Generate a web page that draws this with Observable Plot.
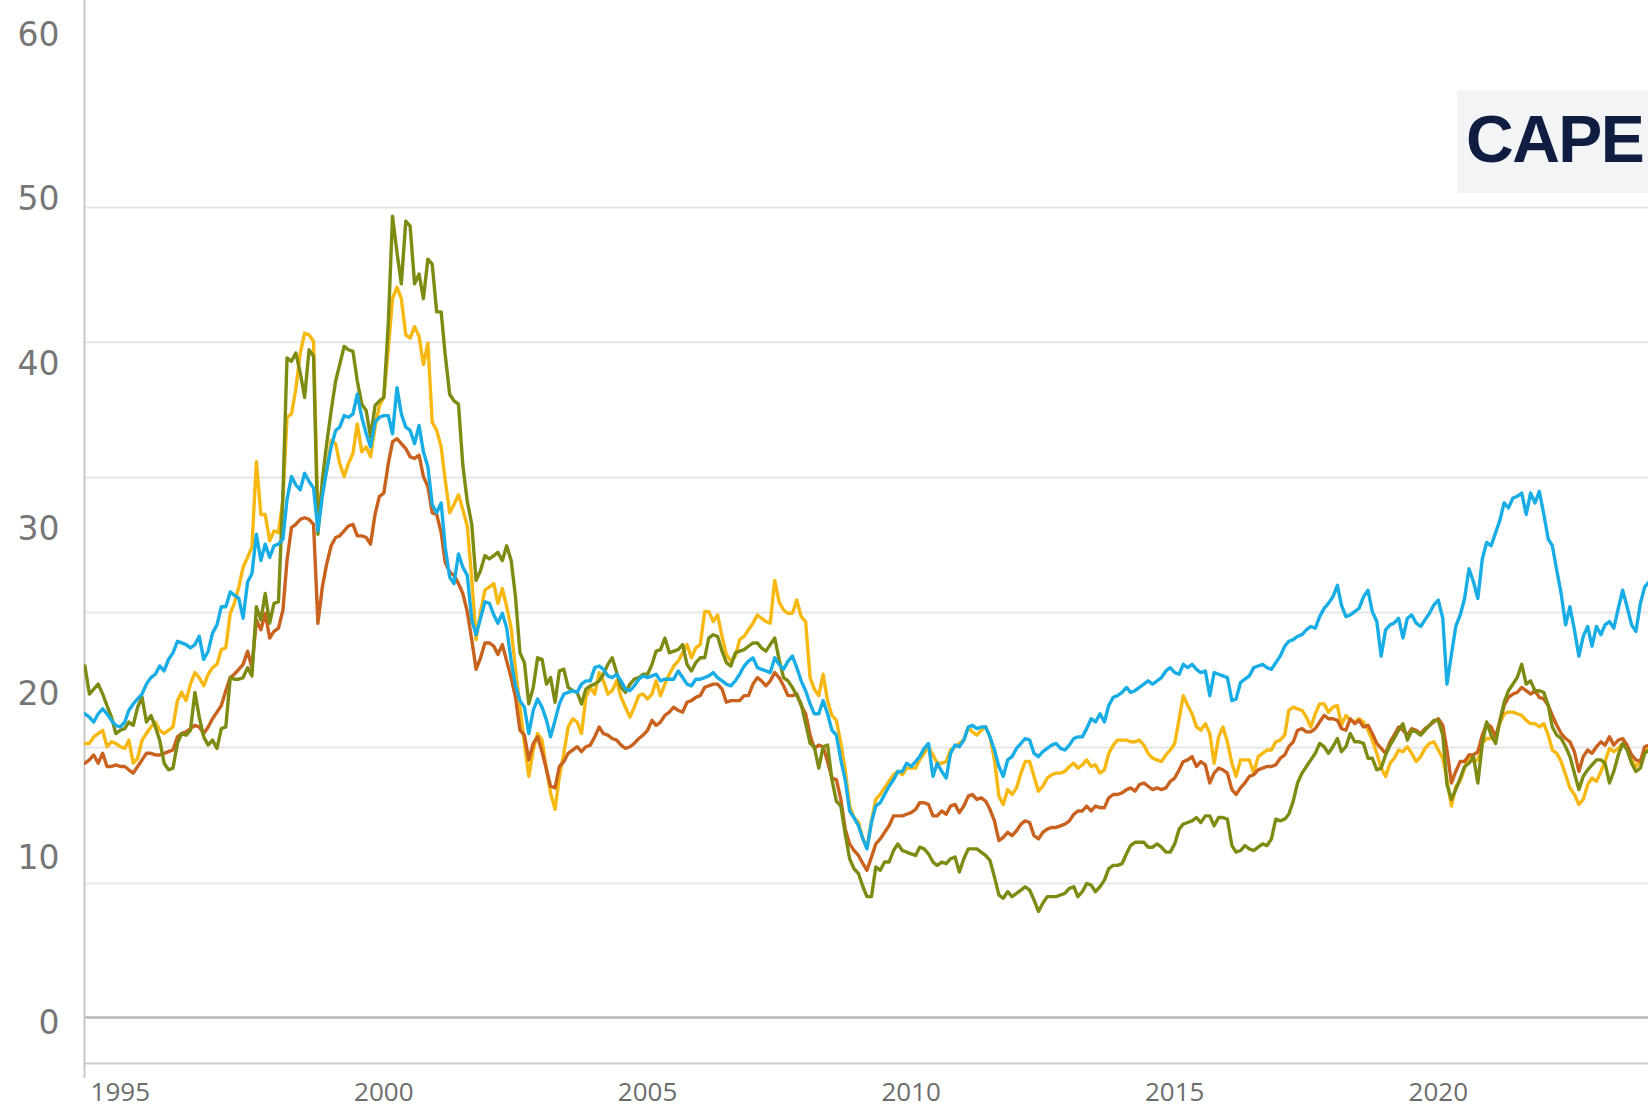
<!DOCTYPE html>
<html>
<head>
<meta charset="utf-8">
<script src="https://cdn.jsdelivr.net/npm/d3@7"></script>
<script src="https://cdn.jsdelivr.net/npm/@observablehq/plot@0.6"></script>
<style>
  html, body { margin: 0; padding: 0; background: #ffffff; overflow: hidden; }
  #wrap { position: relative; width: 1648px; height: 1109px; overflow: hidden; }
  #wrap svg { position: absolute; left: 0; top: 0; }
  #cape { position: absolute; left: 1457px; top: 90px; width: 191px; height: 103px; background: #f3f4f6; }
  #cape span { position: absolute; left: 9px; top: 16px; font: bold 66px "Liberation Sans", Arial, sans-serif; letter-spacing: -1.5px; line-height: 1; color: #0e1d40; white-space: nowrap; }
</style>
</head>
<body>
<div id="wrap"></div>
<script>
// Monthly CAPE readings, first value = May 1994
const firstMonth = [1994, 4];

const blueSeries = [
18.8,18.6,18.3,18.8,19.1,18.8,18.4,18.1,18.0,18.3,
19.0,19.4,19.7,20.0,20.6,21.0,21.2,21.7,21.4,22.1,
22.5,23.2,23.1,23.0,22.8,23.0,23.5,22.1,22.6,23.7,
24.2,25.3,25.3,26.2,26.0,25.8,24.6,26.8,27.3,29.7,
28.1,29.1,28.3,29.0,29.1,29.4,31.8,33.2,32.7,32.4,
33.4,32.9,32.5,29.9,32.0,33.6,35.0,36.0,36.2,36.9,
36.8,37.0,38.2,36.8,35.8,35.0,36.5,36.8,36.9,36.9,
35.8,38.6,37.0,36.2,36.0,35.2,36.3,34.7,33.8,31.5,
31.0,31.6,28.9,27.1,26.7,28.5,27.7,27.2,24.5,23.6,
24.6,25.6,25.5,24.8,24.3,24.9,24.0,22.0,20.5,19.6,
19.2,17.6,19.0,19.7,19.2,18.4,17.4,18.4,19.4,20.0,
20.1,20.2,20.1,20.6,20.8,20.8,21.6,21.7,21.5,21.1,
21.0,21.2,20.8,20.3,20.2,20.5,20.9,21.1,21.0,21.1,
21.2,20.8,20.9,20.9,20.9,21.4,21.0,20.6,20.5,20.9,
20.9,21.0,21.1,21.3,21.0,20.8,20.6,20.5,20.8,21.2,
21.7,22.0,22.2,21.6,21.5,21.4,21.3,22.2,21.8,21.5,
22.0,22.3,21.6,20.8,20.2,19.4,18.8,18.8,19.6,18.8,
17.8,17.5,16.0,14.8,12.9,12.5,12.0,11.2,10.6,12.2,
13.2,13.4,13.9,14.4,14.8,15.3,15.3,15.8,15.6,15.9,
16.2,16.7,17.0,15.0,15.8,15.3,14.9,16.4,16.9,16.8,
17.2,18.0,18.1,17.9,18.0,18.0,17.4,16.6,15.6,15.0,
16.0,16.2,16.7,17.0,17.3,17.2,16.4,16.2,16.5,16.7,
16.9,17.0,16.7,16.6,16.9,17.3,17.4,17.4,17.9,18.5,
18.3,18.8,18.3,19.3,19.8,19.9,20.1,20.4,20.1,20.2,
20.4,20.6,20.8,20.6,20.8,21.0,21.4,21.6,21.3,21.2,
21.8,21.6,21.8,21.5,21.3,21.4,19.9,21.3,21.2,21.1,
21.0,19.6,19.7,20.7,20.9,21.1,21.6,21.7,21.8,21.6,
21.5,21.9,22.3,22.9,23.2,23.3,23.5,23.6,23.9,24.1,
24.0,24.7,25.2,25.5,25.9,26.6,25.4,24.7,24.8,25.0,
25.2,25.9,26.3,25.0,24.4,22.3,23.9,24.2,24.3,24.6,
23.4,24.6,24.8,24.3,24.1,24.5,24.9,25.4,25.7,24.6,
20.6,22.4,24.1,24.8,25.8,27.6,26.8,25.8,28.2,29.2,
29.0,29.8,30.5,31.6,31.3,31.9,32.0,32.2,30.9,32.2,
31.6,32.3,30.9,29.4,29.0,27.5,26.1,24.2,25.3,23.9,
22.3,23.5,24.1,22.9,24.1,23.6,24.2,24.4,24.0,25.2,
26.3,25.3,24.2,23.8,25.5,26.5,26.8
];

const yellowSeries = [
17.0,17.0,17.4,17.6,17.8,16.8,17.1,17.0,16.8,16.7,
17.2,15.8,16.1,17.2,17.6,18.0,18.3,17.8,17.6,17.8,
18.0,19.6,20.1,19.6,20.6,21.3,21.0,20.5,21.2,21.6,
21.8,22.7,22.8,24.9,25.5,26.5,27.7,28.3,28.9,34.1,
30.9,30.9,29.3,29.9,29.8,31.8,36.8,37.0,38.5,40.7,
41.9,41.8,41.4,30.9,32.5,33.5,35.4,35.2,34.0,33.2,
34.0,34.6,36.4,34.7,35.0,34.4,36.2,37.5,38.0,41.0,
44.0,44.7,44.0,41.8,41.6,42.3,41.7,40.0,41.3,36.5,
36.0,35.0,33.0,31.0,31.5,32.1,31.2,30.2,27.0,23.3,
25.0,26.3,26.5,26.7,25.5,26.4,25.3,24.0,21.5,19.2,
17.0,15.0,16.6,17.6,17.2,15.4,14.0,13.0,15.0,16.4,
18.0,18.5,18.3,17.6,19.8,20.4,20.0,21.3,20.8,20.0,
20.2,20.8,19.8,19.2,18.6,19.2,19.9,20.0,19.7,20.0,
20.8,19.9,20.6,21.2,21.7,22.0,22.5,23.0,22.2,22.8,
23.0,25.0,25.0,24.4,24.8,23.5,22.4,22.0,22.3,23.3,
23.5,23.9,24.3,24.8,24.6,24.4,24.3,26.9,25.6,25.1,
24.9,24.9,25.7,24.7,24.4,21.0,20.3,19.9,21.2,19.6,
18.7,18.4,17.0,15.4,13.2,12.5,12.2,11.2,10.7,12.3,
13.6,13.9,14.3,14.7,15.1,15.3,15.1,15.5,15.5,15.5,
16.0,16.4,16.8,16.3,15.8,15.8,15.9,16.6,16.8,17.0,
17.2,18.0,17.7,17.5,17.8,18.0,17.4,16.0,13.8,13.3,
14.2,13.9,14.3,15.2,15.9,15.9,15.0,14.1,14.4,14.9,
15.1,15.2,15.2,15.3,15.6,15.8,15.5,15.7,16.0,15.6,
15.7,15.2,15.4,16.4,16.9,17.2,17.2,17.2,17.1,17.1,
17.2,16.9,16.4,16.1,16.0,15.9,16.3,16.6,17.0,18.5,
19.9,19.3,18.8,18.0,17.8,18.2,17.6,15.8,17.4,18.0,
17.1,15.8,15.0,16.0,16.0,16.0,15.2,16.2,16.4,16.6,
16.6,17.1,17.2,17.5,19.0,19.2,19.1,19.0,18.6,18.0,
18.8,19.4,19.4,18.9,19.2,19.3,18.1,18.7,18.4,18.3,
18.5,18.3,17.8,17.2,16.4,15.5,15.0,15.8,16.1,16.6,
16.5,16.8,16.4,15.9,16.2,16.7,17.0,17.1,16.6,16.1,
14.8,13.2,14.4,14.7,15.5,16.3,15.9,16.0,17.0,17.3,
17.3,17.4,18.2,18.8,18.9,18.9,18.8,18.7,18.4,18.2,
18.2,18.0,18.2,17.5,16.6,16.4,15.9,15.1,14.3,13.9,
13.3,13.6,14.5,14.9,14.7,15.3,15.9,16.7,16.5,16.7,
17.0,16.8,16.0,15.6,15.9,16.5,16.8
];

const orangeSeries = [
15.8,16.0,16.3,15.8,16.4,15.6,15.6,15.7,15.6,15.6,
15.4,15.2,15.6,16.0,16.4,16.4,16.3,16.3,16.4,16.5,
16.6,17.4,17.6,17.7,17.9,18.1,18.0,17.6,18.0,18.5,
18.9,19.3,20.2,21.0,21.2,21.5,21.8,22.6,21.6,24.5,
23.9,24.9,23.4,23.8,24.0,25.1,28.1,30.1,30.3,30.6,
30.7,30.6,30.3,24.3,26.5,27.9,29.0,29.5,29.6,29.9,
30.2,30.3,29.6,29.6,29.5,29.1,30.9,32.0,32.2,34.0,
35.3,35.5,35.2,34.9,34.4,34.3,34.5,33.2,32.6,31.0,
30.9,29.8,28.0,27.4,27.2,26.7,26.1,25.0,23.3,21.5,
22.2,23.1,23.1,22.9,22.4,23.0,22.0,21.0,19.8,17.8,
17.5,16.0,17.0,17.4,16.5,15.4,14.4,14.3,15.6,15.9,
16.4,16.6,16.8,16.5,16.8,16.9,17.4,18.0,17.6,17.5,
17.3,17.2,16.9,16.7,16.8,17.0,17.3,17.5,17.8,18.4,
18.1,18.3,18.7,18.9,19.2,19.0,18.9,19.5,19.6,19.8,
19.9,20.4,20.5,20.6,20.6,20.3,19.5,19.6,19.6,19.6,
19.9,19.9,20.6,21.0,20.8,20.5,20.8,21.3,21.0,20.5,
19.9,19.9,20.0,19.3,18.8,17.5,16.7,16.9,16.8,15.9,
14.9,14.8,13.6,11.8,10.9,10.5,10.2,9.7,9.3,10.1,
10.9,11.2,11.6,12.0,12.6,12.6,12.6,12.7,12.8,13.0,
13.4,13.4,13.3,12.6,12.6,12.9,12.7,13.2,13.3,12.8,
13.2,13.8,13.9,13.6,13.7,13.5,13.0,12.3,11.1,11.3,
11.6,11.4,11.7,12.1,12.3,12.2,11.4,11.2,11.6,11.8,
11.9,11.9,12.0,12.1,12.3,12.7,12.9,12.9,13.2,12.9,
13.2,13.1,13.1,13.7,13.9,13.9,14.0,14.2,14.3,14.1,
14.5,14.6,14.4,14.2,14.3,14.2,14.3,14.7,14.9,15.4,
15.9,16.0,16.2,15.6,15.9,15.7,14.6,15.2,15.5,15.4,
15.2,14.2,13.9,14.3,14.6,15.0,15.1,15.4,15.5,15.6,
15.6,15.7,16.1,16.3,16.8,17.1,17.8,17.9,17.7,17.7,
17.9,18.3,18.7,18.5,18.5,18.4,17.9,17.8,18.5,18.2,
18.4,18.0,18.1,17.6,17.0,16.7,16.4,17.1,17.5,18.0,
17.8,17.5,17.9,17.8,17.6,17.9,18.1,18.3,18.5,18.1,
16.6,14.6,15.3,15.9,15.9,16.3,16.3,16.5,17.5,18.2,
18.0,17.4,18.3,19.3,19.8,20.0,20.1,20.4,20.2,20.0,
20.2,19.8,19.7,19.3,18.7,18.1,17.6,17.3,17.1,16.5,
15.3,16.2,16.6,16.4,16.8,17.1,16.9,17.4,16.9,17.2,
17.3,16.9,16.3,16.0,15.9,16.8,16.9
];

const greenSeries = [
21.7,20.0,20.3,20.6,20.0,19.3,18.6,17.6,17.8,17.9,
18.3,18.1,19.2,19.8,18.3,18.7,18.0,17.2,15.8,15.4,
15.5,17.0,17.6,17.5,17.8,20.1,18.6,17.4,16.9,17.2,
16.7,17.9,18.0,21.0,20.9,20.9,21.0,21.6,21.1,25.3,
24.5,26.1,24.3,25.5,25.6,32.2,40.4,40.2,40.7,39.5,
38.0,40.9,40.5,29.7,33.0,35.2,37.2,39.0,40.0,41.1,
40.9,40.8,39.0,37.6,37.2,35.6,37.5,37.8,38.0,42.5,
49.0,46.8,44.9,48.7,48.4,44.9,45.5,44.0,46.4,46.1,
43.2,43.2,40.6,38.2,37.8,37.6,33.9,31.7,30.3,26.9,
27.5,28.4,28.2,28.4,28.6,28.1,29.0,28.1,25.9,22.5,
21.9,19.4,20.4,22.2,22.1,20.6,21.0,19.5,21.4,21.5,
20.4,20.2,20.1,19.4,20.3,20.5,20.6,20.8,21.2,21.8,
22.2,21.3,20.4,20.1,20.6,20.9,21.0,21.2,21.2,21.8,
22.6,22.7,23.4,22.5,22.6,22.7,23.0,21.8,21.4,21.9,
22.2,22.2,23.4,23.6,23.5,22.6,21.9,21.7,22.5,22.6,
22.7,22.9,23.1,23.1,22.8,22.6,23.0,23.4,22.1,21.0,
20.8,20.4,19.9,19.4,18.2,17.0,16.8,15.5,16.8,16.9,
14.8,13.5,13.2,11.5,10.0,9.4,9.1,8.3,7.7,7.7,
9.5,9.3,9.8,9.8,10.5,10.9,10.5,10.4,10.3,10.2,
10.7,10.6,10.3,9.8,9.6,9.8,9.7,10.0,10.1,9.2,
10.0,10.6,10.6,10.6,10.4,10.2,9.9,8.9,7.8,7.6,
8.0,7.7,7.9,8.1,8.3,8.1,7.5,6.8,7.3,7.7,
7.7,7.7,7.8,7.9,8.2,8.3,7.7,8.0,8.5,8.4,
8.0,8.3,8.7,9.4,9.6,9.6,9.7,10.3,10.8,11.0,
11.0,11.0,10.7,10.7,10.9,10.7,10.4,10.4,10.9,11.8,
12.1,12.2,12.3,12.5,12.2,12.6,12.6,12.0,12.5,12.5,
12.4,10.8,10.4,10.5,10.8,10.6,10.5,10.7,10.9,10.8,
11.2,12.4,12.3,12.4,12.7,13.5,14.6,15.2,15.6,16.0,
16.4,17.0,16.8,16.4,16.8,17.3,16.5,16.8,17.6,17.1,
17.1,17.0,16.1,16.1,15.4,15.5,16.3,16.9,17.3,17.8,
18.2,17.2,17.8,17.7,17.5,17.8,18.1,18.4,18.4,17.5,
14.5,13.6,14.2,14.9,15.6,15.8,16.2,14.6,17.0,18.3,
17.5,17.0,18.3,19.5,20.2,20.6,21.0,21.8,20.6,20.8,
20.2,20.2,20.1,19.3,18.0,17.5,17.3,16.8,16.2,15.2,
14.2,15.0,15.4,15.7,16.0,16.0,15.8,14.6,15.3,16.3,
17.0,16.6,15.8,15.3,15.5,16.4,16.6
];

// Axis ticks and reference levels
const yTickValues = [0, 10, 20, 30, 40, 50, 60];
const xTickYears = [1995, 2000, 2005, 2010, 2015, 2020];
const gridLevels = [8.5, 16.76, 24.95, 33.15, 41.35, 49.54];
const zeroLevel = [0.36];
const baseLevel = [-2.43];
const xYearRange = [1994.321, 2023.987];
const yRange = [-3.34, 62.1];

const monthDate = i => new Date(Date.UTC(firstMonth[0], firstMonth[1] + i, 1));
const yearDate = y => {
  const f = Math.floor(y);
  const a = Date.UTC(f, 0, 1), b = Date.UTC(f + 1, 0, 1);
  return new Date(a + (y - f) * (b - a));
};
const toRows = arr => arr.map((v, i) => ({date: monthDate(i), value: v}));

const lineStyle = {x: "date", y: "value", strokeWidth: 3.4, clip: true, strokeLinejoin: "round", strokeLinecap: "round"};

const chart = Plot.plot({
  width: 1648,
  height: 1109,
  marginLeft: 84,
  marginRight: 0,
  marginTop: 0,
  marginBottom: 31,
  style: {background: "transparent", overflow: "visible"},
  x: {type: "utc", domain: xYearRange.map(yearDate), label: null},
  y: {domain: yRange, label: null},
  marks: [
    Plot.ruleY(gridLevels, {stroke: "#e6e6e6", strokeWidth: 2}),
    Plot.ruleY(zeroLevel, {stroke: "#b9b9b9", strokeWidth: 2.5}),
    Plot.ruleY(baseLevel, {stroke: "#cdcdcd", strokeWidth: 2}),
    Plot.ruleX([yearDate(xYearRange[0])], {stroke: "#c8c8c8", strokeWidth: 2}),
    Plot.lineY(toRows(yellowSeries), {...lineStyle, stroke: "#f8b812"}),
    Plot.lineY(toRows(orangeSeries), {...lineStyle, stroke: "#c8621e"}),
    Plot.lineY(toRows(greenSeries), {...lineStyle, stroke: "#7e8b13"}),
    Plot.lineY(toRows(blueSeries), {...lineStyle, stroke: "#19ade5"}),
    Plot.axisY(yTickValues, {
      tickSize: 0, tickPadding: 25, fontSize: 33, fontFamily: "DejaVu Sans",
      fill: "#767676", label: null
    }),
    Plot.axisX(xTickYears.map(y => new Date(Date.UTC(y, 0, 1))), {
      tickSize: 0, tickPadding: 4, fontSize: 26, fontFamily: "Open Sans",
      fill: "#6c6c6c", tickFormat: d => String(d.getUTCFullYear()), label: null
    })
  ]
});

const wrap = document.getElementById("wrap");
wrap.appendChild(chart);
const cape = document.createElement("div");
cape.id = "cape";
cape.innerHTML = "<span>CAPE</span>";
wrap.appendChild(cape);
</script>
</body>
</html>
